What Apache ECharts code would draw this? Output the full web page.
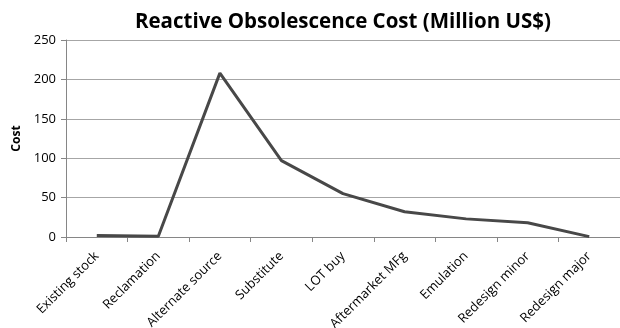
<!DOCTYPE html>
<html>
  <head>
    <meta charset="utf-8" />
    <title>Reactive Obsolescence Cost</title>
    <script src="https://cdn.jsdelivr.net/npm/echarts@6/dist/echarts.min.js"></script>
    <style>
      html, body { margin: 0; padding: 0; background: #fff; }
    </style>
  </head>
  <body>
    <div id="main" style="width: 620px;height:328px;"></div>
    <script type="text/javascript">
      // data
      var categories = ['Existing stock', 'Reclamation', 'Alternate source', 'Substitute', 'LOT buy',
        'Aftermarket MFg', 'Emulation', 'Redesign minor', 'Redesign major'];
      var costValues = [2, 1, 208, 97, 55, 32, 23, 18, 0.5];

      var myChart = echarts.init(document.getElementById('main'));

      var option = {
        animation: false,
        title: {
          text: 'Reactive Obsolescence Cost (Million US$)',
          left: 338,
          textAlign: 'center',
          top: 7,
          textStyle: {
            fontFamily: 'Open Sans',
            fontWeight: 'bold',
            fontSize: 20.5,
            color: '#000'
          }
        },
        grid: {
          left: 66,
          right: 0,
          top: 40,
          bottom: 91,
          outerBoundsMode: 'none'
        },
        xAxis: {
          type: 'category',
          data: categories,
          boundaryGap: true,
          axisLine: { lineStyle: { color: '#868686', width: 1 } },
          axisTick: { show: true, length: 5, lineStyle: { color: '#868686' } },
          axisLabel: {
            interval: 0,
            rotate: 45,
            margin: 17,
            fontFamily: 'Open Sans',
            fontSize: 13,
            color: '#000'
          }
        },
        yAxis: {
          type: 'value',
          name: 'Cost',
          nameLocation: 'middle',
          nameGap: 41,
          nameRotate: 90,
          nameTextStyle: {
            fontFamily: 'Open Sans',
            fontWeight: 'bold',
            fontSize: 12,
            color: '#000'
          },
          min: 0,
          max: 250,
          interval: 50,
          axisLine: { show: true, lineStyle: { color: '#868686', width: 1 } },
          axisTick: { show: true, length: 5, lineStyle: { color: '#868686' } },
          axisLabel: {
            margin: 10,
            fontFamily: 'Open Sans',
            fontSize: 13,
            color: '#000'
          },
          splitLine: { lineStyle: { color: '#a6a6a6', width: 1 } }
        },
        series: [
          {
            name: 'Cost',
            type: 'line',
            data: costValues,
            symbol: 'none',
            lineStyle: { color: '#484848', width: 3 }
          }
        ]
      };

      myChart.setOption(option);
    </script>
  </body>
</html>
